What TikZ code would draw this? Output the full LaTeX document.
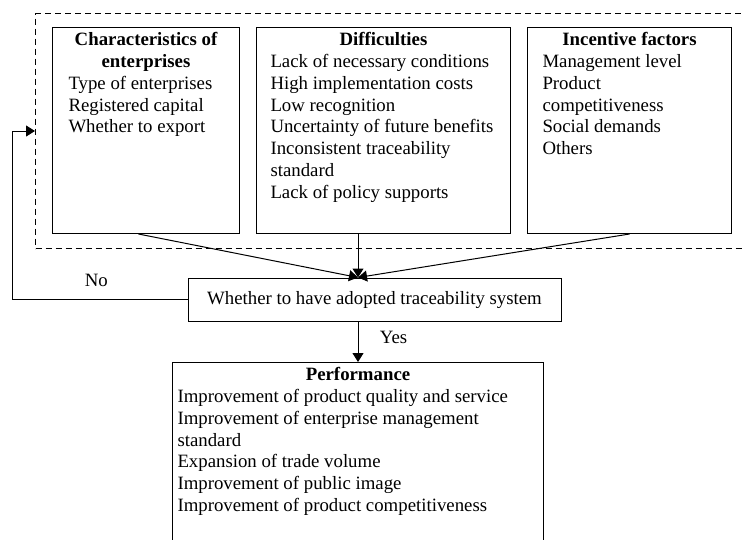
\documentclass[tikz,border=0pt]{standalone}
\usepackage{fontspec}
\setmainfont{Liberation Serif}
\usetikzlibrary{arrows.meta, calc}

\newcommand{\boxbody}[4]{\parbox[t][#2][t]{#1}{\centering\textbf{#3}\par\raggedright #4}}

\begin{document}
\begin{tikzpicture}[x=1pt, y=-1pt,
  every node/.style={font=\fontsize{18.8}{21.8}\selectfont},
  blk/.style={draw, line width=1pt, anchor=north west, inner ysep=5pt},
  grp/.style={draw, dash pattern=on 6pt off 4pt, line width=1pt, anchor=north west, minimum width=740pt, minimum height=235pt, inner sep=0pt},
  arr/.style={-{Triangle[length=9pt,width=11pt]}, line width=1pt}
]
\useasboundingbox (0,0) rectangle (742,539);
\node[grp] (grp) at (35,13) {};

\node[blk, inner xsep=16pt] (c1) at (52,27) {\boxbody{155pt}{196pt}{Characteristics of\\enterprises}{Type of enterprises\\Registered capital\\Whether to export}};
\node[blk, inner xsep=14pt] (c2) at (256,27) {\boxbody{226pt}{196pt}{Difficulties}{Lack of necessary conditions\\High implementation costs\\Low recognition\\Uncertainty of future benefits\\Inconsistent traceability\\standard\\Lack of policy supports}};
\node[blk, inner xsep=15pt] (c3) at (527,27) {\boxbody{174pt}{196pt}{Incentive factors}{Management level\\Product\\competitiveness\\Social demands\\Others}};

\node[draw, line width=1pt, minimum width=373pt, minimum height=43pt] (mid) at (374.5,299.5) {Whether to have adopted traceability system};

\node[blk, inner xsep=5pt] (perf) at (172,362) {\boxbody{361pt}{200pt}{Performance}{Improvement of product quality and service\\Improvement of enterprise management\\standard\\Expansion of trade volume\\Improvement of public image\\Improvement of product competitiveness}};

\coordinate (join) at (mid.north -| perf.north);
\draw[arr] ($(c1.south west)!0.46!(c1.south east)$) -- (join);
\draw[arr] (c2.south -| join) -- (join);
\draw[arr] (c3.south) -- (join);
\draw[arr] (mid.south -| perf.north) -- node[pos=0.4, right=18pt] {Yes} (perf.north);
\draw[arr] (mid.west) -| node[pos=0.26, above=9pt] {No} ([xshift=-23pt]grp.west) -- (grp.west);
\end{tikzpicture}
\end{document}
